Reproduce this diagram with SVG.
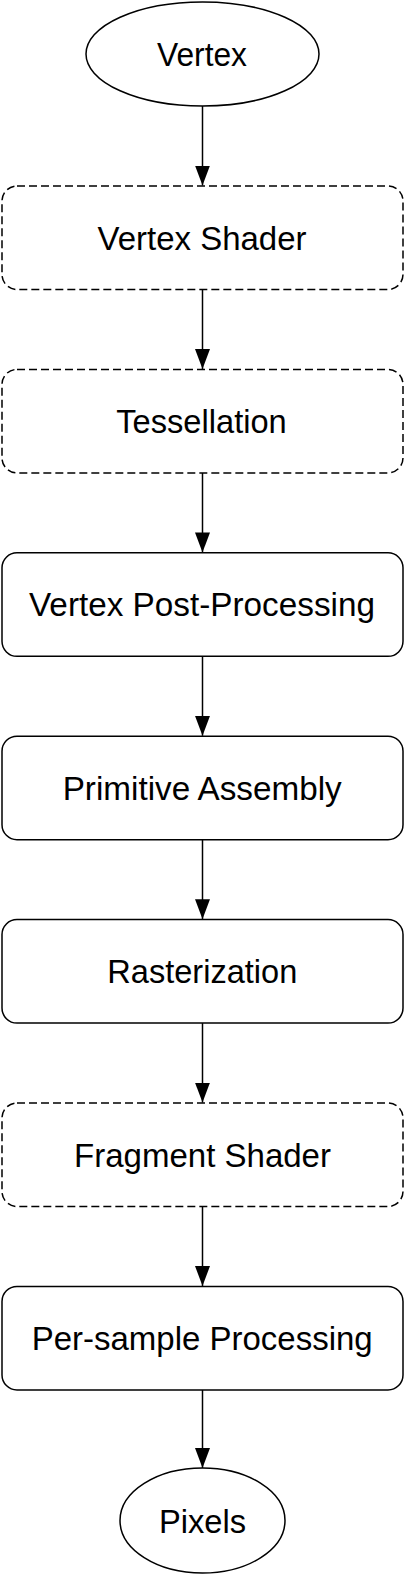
<svg xmlns="http://www.w3.org/2000/svg" width="404" height="1575" viewBox="0 0 404 1575">
<style>
.n{fill:#fff;stroke:#000;stroke-width:1.5}
.d{stroke-dasharray:8 4}
.t{font-family:"Liberation Sans",Arial,Helvetica,sans-serif;font-size:32.5px;fill:#000;text-anchor:middle}
.c{stroke:#000;stroke-width:1.5;fill:none}
</style>
<defs>
<marker id="ah" markerUnits="userSpaceOnUse" markerWidth="20" markerHeight="15" refX="20" refY="7.5" orient="auto">
<path d="M0,0 L20,7.5 L0,15 z" fill="#000"/>
</marker>
</defs>
<rect width="404" height="1575" fill="#fff"/>
<g id="connectors">
<line class="c" x1="202.5" y1="106" x2="202.5" y2="185.5" marker-end="url(#ah)"/>
<line class="c" x1="202.5" y1="289.5" x2="202.5" y2="369" marker-end="url(#ah)"/>
<line class="c" x1="202.5" y1="473" x2="202.5" y2="552.4" marker-end="url(#ah)"/>
<line class="c" x1="202.5" y1="656.3" x2="202.5" y2="735.8" marker-end="url(#ah)"/>
<line class="c" x1="202.5" y1="839.7" x2="202.5" y2="919.2" marker-end="url(#ah)"/>
<line class="c" x1="202.5" y1="1023.1" x2="202.5" y2="1102.6" marker-end="url(#ah)"/>
<line class="c" x1="202.5" y1="1206.5" x2="202.5" y2="1286" marker-end="url(#ah)"/>
<line class="c" x1="202.5" y1="1389.9" x2="202.5" y2="1468" marker-end="url(#ah)"/>
</g>
<g id="vertex">
<ellipse class="n" cx="202.5" cy="54" rx="116.5" ry="52"/>
<text class="t" x="202" y="66.3" textLength="90" lengthAdjust="spacingAndGlyphs">Vertex</text>
</g>
<g id="vertex-shader">
<rect class="n d" x="2" y="186" width="401" height="103.5" rx="15" ry="15"/>
<text class="t" x="202" y="249.6" textLength="209" lengthAdjust="spacingAndGlyphs">Vertex Shader</text>
</g>
<g id="tessellation">
<rect class="n d" x="2" y="369.4" width="401" height="103.5" rx="15" ry="15"/>
<text class="t" x="201.5" y="433" textLength="170.5" lengthAdjust="spacingAndGlyphs">Tessellation</text>
</g>
<g id="vertex-post-processing">
<rect class="n" x="2" y="552.8" width="401" height="103.5" rx="15" ry="15"/>
<text class="t" x="202" y="616.4" textLength="346" lengthAdjust="spacingAndGlyphs">Vertex Post-Processing</text>
</g>
<g id="primitive-assembly">
<rect class="n" x="2" y="736.2" width="401" height="103.5" rx="15" ry="15"/>
<text class="t" x="202.2" y="799.8" textLength="279" lengthAdjust="spacingAndGlyphs">Primitive Assembly</text>
</g>
<g id="rasterization">
<rect class="n" x="2" y="919.6" width="401" height="103.5" rx="15" ry="15"/>
<text class="t" x="202.3" y="983.2" textLength="190" lengthAdjust="spacingAndGlyphs">Rasterization</text>
</g>
<g id="fragment-shader">
<rect class="n d" x="2" y="1103" width="401" height="103.5" rx="15" ry="15"/>
<text class="t" x="202.5" y="1166.6" textLength="257" lengthAdjust="spacingAndGlyphs">Fragment Shader</text>
</g>
<g id="per-sample-processing">
<rect class="n" x="2" y="1286.4" width="401" height="103.5" rx="15" ry="15"/>
<text class="t" x="202.2" y="1350" textLength="341" lengthAdjust="spacingAndGlyphs">Per-sample Processing</text>
</g>
<g id="pixels">
<ellipse class="n" cx="202.5" cy="1520.5" rx="82.5" ry="52.5"/>
<text class="t" x="202.5" y="1533" textLength="87" lengthAdjust="spacingAndGlyphs">Pixels</text>
</g>
</svg>
